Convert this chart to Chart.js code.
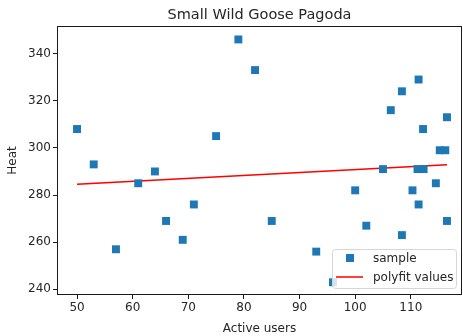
<!DOCTYPE html>
<html>
<head>
<meta charset="utf-8">
<script src="https://cdn.jsdelivr.net/npm/chart.js@4"></script>
<style>
  html, body { margin: 0; padding: 0; background: #fff; overflow: hidden; }
  canvas { display: block; }
</style>
</head>
<body>
<canvas id="gooseChart" width="463" height="336"></canvas>
<script>
// active users vs heat samples
var activeUsers = [50, 53, 57, 61, 64, 66, 69, 71, 75, 79, 82, 85, 93, 96, 100, 102,
                   105, 106.4, 108.4, 108.4, 110.3, 111.4, 111.4, 111.2, 112.3, 112.2,
                   114.5, 115.2, 116.2, 116.5, 116.5];
var heat = [308, 293, 257, 285, 290, 269, 261, 276, 305, 346, 333, 269, 256, 243, 282, 267,
            291, 316, 324, 263, 282, 329, 276, 291, 291, 308,
            285, 299, 299, 313, 269];

// fitted line end points
var fitX = [50, 116.5];
var fitY = [284.6, 292.8];

var xTicks = [50, 60, 70, 80, 90, 100, 110];
var yTicks = [240, 260, 280, 300, 320, 340];

var FONT = 'DejaVu Sans';
var TEXT = '#262626';

var framePlugin = {
    id: 'frame',
    beforeDraw: function (chart) {
        var ctx = chart.ctx;
        ctx.save();
        ctx.fillStyle = '#fff';
        ctx.fillRect(0, 0, chart.width, chart.height);
        ctx.restore();
    },
    afterDatasetsDraw: function (chart) {
        var ctx = chart.ctx, a = chart.chartArea;
        ctx.save();
        // legend, lower right
        var lx = 332.5, ly = 249.5, lw = 124, lh = 39;
        ctx.globalAlpha = 0.8;
        ctx.fillStyle = '#fff';
        ctx.beginPath();
        ctx.roundRect(lx, ly, lw, lh, 3);
        ctx.fill();
        ctx.globalAlpha = 1;
        ctx.strokeStyle = '#d6d6d6';
        ctx.lineWidth = 1;
        ctx.stroke();
        ctx.fillStyle = '#1f77b4';
        ctx.fillRect(346, 254, 8, 8);
        ctx.strokeStyle = 'red';
        ctx.lineWidth = 1.5;
        ctx.beginPath();
        ctx.moveTo(336, 277);
        ctx.lineTo(363, 277);
        ctx.stroke();
        ctx.fillStyle = TEXT;
        ctx.font = '12px "' + FONT + '"';
        ctx.textBaseline = 'middle';
        ctx.fillText('sample', 373, 259);
        ctx.fillText('polyfit values', 373, 277.5);
        // axes frame
        ctx.strokeStyle = '#1a1a1a';
        ctx.lineWidth = 1;
        ctx.strokeRect(a.left + 0.5, a.top + 0.5, a.right - a.left - 1, a.bottom - a.top - 1);
        // title
        ctx.fillStyle = TEXT;
        ctx.font = '14.5px "' + FONT + '"';
        ctx.textAlign = 'center';
        ctx.fillText('Small Wild Goose Pagoda', (a.left + a.right) / 2, 15);
        ctx.restore();
    }
};

var ctx = document.getElementById('gooseChart').getContext('2d');
var gooseChart = new Chart(ctx, {
    type: 'scatter',
    data: {
        datasets: [
            {
                label: 'sample',
                data: activeUsers.map(function (x, i) { return { x: x, y: heat[i] }; }),
                pointStyle: 'rect',
                pointRadius: 5.6,
                pointHoverRadius: 5.6,
                backgroundColor: '#1f77b4',
                borderColor: '#1f77b4',
                borderWidth: 0
            },
            {
                label: 'polyfit values',
                type: 'line',
                data: fitX.map(function (x, i) { return { x: x, y: fitY[i] }; }),
                borderColor: 'red',
                borderWidth: 1.5,
                pointRadius: 0,
                fill: false
            }
        ]
    },
    plugins: [framePlugin],
    options: {
        responsive: false,
        animation: false,
        layout: { autoPadding: false, padding: { top: 26, right: 1, left: 0, bottom: 0 } },
        plugins: {
            legend: { display: false },
            tooltip: { enabled: false }
        },
        scales: {
            x: {
                type: 'linear',
                min: 46.4,
                max: 119.2,
                afterFit: function (s) { s.height = 41; s.paddingLeft = 0; s.paddingRight = 0; },
                afterBuildTicks: function (s) { s.ticks = xTicks.map(function (v) { return { value: v }; }); },
                grid: { drawOnChartArea: false, drawTicks: true, tickLength: 4, color: '#1a1a1a' },
                border: { display: false },
                ticks: { color: TEXT, font: { family: FONT, size: 12 }, padding: 2, maxRotation: 0 },
                title: { display: true, text: 'Active users', color: TEXT, font: { family: FONT, size: 12 }, padding: { top: 0, bottom: 0 } }
            },
            y: {
                type: 'linear',
                min: 237.6,
                max: 351.7,
                afterFit: function (s) { s.width = 57; s.paddingTop = 0; s.paddingBottom = 0; },
                afterBuildTicks: function (s) { s.ticks = yTicks.map(function (v) { return { value: v }; }); },
                grid: { drawOnChartArea: false, drawTicks: true, tickLength: 4, color: '#1a1a1a' },
                border: { display: false },
                ticks: { color: TEXT, font: { family: FONT, size: 12 }, padding: 2 },
                title: { display: true, text: 'Heat', color: TEXT, font: { family: FONT, size: 12 }, padding: { top: 6, bottom: 0 } }
            }
        }
    }
});
</script>
</body>
</html>
